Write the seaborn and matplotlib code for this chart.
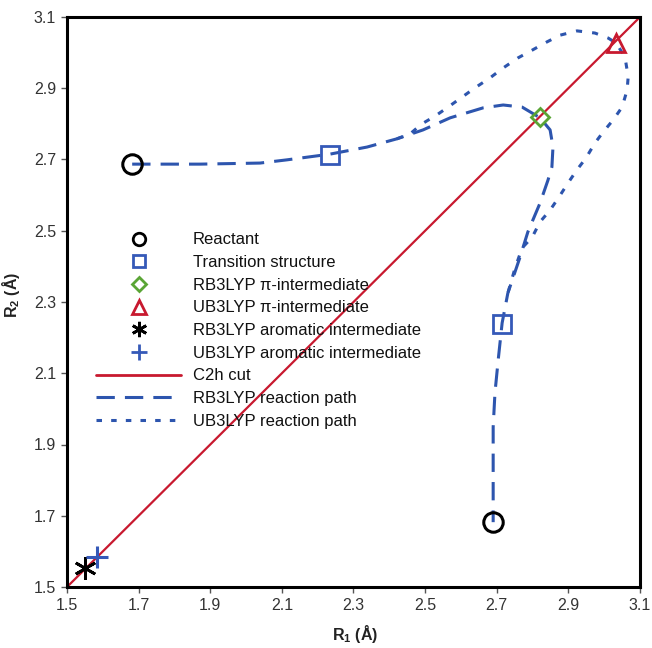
import numpy as np
import pandas as pd
import matplotlib
matplotlib.use("Agg")
import matplotlib.pyplot as plt
from matplotlib.lines import Line2D
import seaborn as sns

# ---------------- data ----------------
rb_r1 = [1.682, 1.760, 1.871, 2.039, 2.114, 2.234, 2.338, 2.421, 2.494, 2.570,
         2.662, 2.718, 2.771, 2.821, 2.849, 2.857, 2.854, 2.843, 2.821, 2.787,
         2.765, 2.731, 2.715, 2.704, 2.695, 2.690, 2.690, 2.690, 2.690]
rb_r2 = [2.687, 2.687, 2.687, 2.690, 2.699, 2.715, 2.735, 2.758, 2.783, 2.817,
         2.845, 2.853, 2.847, 2.817, 2.783, 2.735, 2.679, 2.642, 2.578, 2.497,
         2.426, 2.325, 2.241, 2.137, 2.045, 1.949, 1.856, 1.772, 1.682]

ub_r1 = [2.421, 2.458, 2.491, 2.528, 2.564, 2.603, 2.639, 2.681, 2.718, 2.759,
         2.799, 2.840, 2.877, 2.924, 2.974, 3.011, 3.033, 3.058, 3.067, 3.064,
         3.050, 3.025, 2.997, 2.974, 2.949, 2.924, 2.899, 2.874, 2.849, 2.821,
         2.799, 2.771, 2.751, 2.731]
ub_r2 = [2.758, 2.772, 2.800, 2.822, 2.847, 2.875, 2.901, 2.929, 2.957, 2.985,
         3.007, 3.030, 3.049, 3.061, 3.055, 3.041, 3.027, 2.988, 2.932, 2.895,
         2.847, 2.811, 2.777, 2.746, 2.704, 2.671, 2.634, 2.595, 2.558, 2.525,
         2.482, 2.452, 2.395, 2.325]

cut_r = [1.5, 3.1]

reactant_r1 = [1.682, 2.690]
reactant_r2 = [2.687, 1.682]
ts_r1 = [2.234, 2.715]
ts_r2 = [2.713, 2.238]
rb_pi_r1, rb_pi_r2 = [2.821], [2.818]
ub_pi_r1, ub_pi_r2 = [3.033], [3.028]
rb_arom_r1, rb_arom_r2 = [1.550], [1.553]
ub_arom_r1, ub_arom_r2 = [1.584], [1.584]

ticks = [1.5, 1.7, 1.9, 2.1, 2.3, 2.5, 2.7, 2.9, 3.1]

labels = ["Reactant", "Transition structure", "RB3LYP \u03c0-intermediate",
          "UB3LYP \u03c0-intermediate", "RB3LYP aromatic intermediate",
          "UB3LYP aromatic intermediate", "C2h cut", "RB3LYP reaction path",
          "UB3LYP reaction path"]

# ---------------- style ----------------
sns.set_style("white")
plt.rcParams["font.family"] = ["Liberation Sans", "DejaVu Sans"]
plt.rcParams["mathtext.fontset"] = "custom"
plt.rcParams["mathtext.rm"] = "Liberation Sans"
plt.rcParams["mathtext.bf"] = "Liberation Sans:bold"

RED = "#C8192F"
BLUE = "#2D55AE"
BLUE2 = "#3559B8"
GREEN = "#5AA535"
BLACK = "#000000"
DASH = (0, (6, 3.3))
DOT = (0, (2, 3.3))

fig = plt.figure(figsize=(6.52, 6.48), dpi=100)
ax = fig.add_axes([67 / 652, 1 - 587 / 648, 573 / 652, 570 / 648])

rb = pd.DataFrame({"R1": rb_r1, "R2": rb_r2})
ub = pd.DataFrame({"R1": ub_r1, "R2": ub_r2})
cut = pd.DataFrame({"R1": cut_r, "R2": cut_r})

sns.lineplot(data=cut, x="R1", y="R2", sort=False, estimator=None, ax=ax,
             color=RED, linewidth=1.6, zorder=2)
sns.lineplot(data=rb, x="R1", y="R2", sort=False, estimator=None, ax=ax,
             color=BLUE, linewidth=2.2, linestyle=DASH, zorder=3)
sns.lineplot(data=ub, x="R1", y="R2", sort=False, estimator=None, ax=ax,
             color=BLUE, linewidth=2.2, linestyle=DOT, zorder=3)


def markers(xs, ys, **kw):
    sns.lineplot(x=xs, y=ys, sort=False, estimator=None, ax=ax,
                 linestyle="none", zorder=5, **kw)


markers(reactant_r1, reactant_r2, marker="o", markersize=14, markerfacecolor="none",
        markeredgecolor=BLACK, markeredgewidth=2.2, color=BLACK)
markers(ts_r1, ts_r2, marker="s", markersize=13.5, markerfacecolor="none",
        markeredgecolor=BLUE2, markeredgewidth=2.0, color=BLUE2)
markers(rb_pi_r1, rb_pi_r2, marker="D", markersize=9.5, markerfacecolor="none",
        markeredgecolor=GREEN, markeredgewidth=2.0, color=GREEN)
markers(ub_pi_r1, ub_pi_r2, marker="^", markersize=12.5, markerfacecolor="none",
        markeredgecolor=RED, markeredgewidth=2.0, color=RED)
markers(rb_arom_r1, rb_arom_r2, marker=(6, 2, 0), markersize=16,
        markeredgecolor=BLACK, markeredgewidth=2.0, color=BLACK)
markers(ub_arom_r1, ub_arom_r2, marker="+", markersize=16,
        markeredgecolor=BLUE2, markeredgewidth=2.2, color=BLUE2)

ax.set_xlim(1.5, 3.1)
ax.set_ylim(1.5, 3.1)
ax.set_xticks(ticks)
ax.set_yticks(ticks)
ax.set_xticklabels([f"{t:.1f}" for t in ticks])
ax.set_yticklabels([f"{t:.1f}" for t in ticks])
ax.tick_params(axis="both", direction="out", length=4, width=1.0, pad=4,
               labelsize=11.5, labelcolor="#333333", color="#555555",
               bottom=True, left=True, top=False, right=False)
for s in ax.spines.values():
    s.set_visible(True)
    s.set_color("black")
    s.set_linewidth(2.2)

ax.set_xlabel(r"R$_\mathbf{1}$ (Å)", fontsize=11.5, fontweight="bold", color="#222222")
ax.set_ylabel(r"R$_\mathbf{2}$ (Å)", fontsize=11.5, fontweight="bold", color="#222222")
ax.xaxis.set_label_coords((355 - 67) / 573, (587 - 623) / 570)
ax.yaxis.set_label_coords((22 - 67) / 573, (587 - 295) / 570)

handles = [
    Line2D([], [], linestyle="none", marker="o", markersize=9, markerfacecolor="none",
           markeredgecolor=BLACK, markeredgewidth=2.0),
    Line2D([], [], linestyle="none", marker="s", markersize=9, markerfacecolor="none",
           markeredgecolor=BLUE2, markeredgewidth=2.0),
    Line2D([], [], linestyle="none", marker="D", markersize=7, markerfacecolor="none",
           markeredgecolor=GREEN, markeredgewidth=2.0),
    Line2D([], [], linestyle="none", marker="^", markersize=9.5, markerfacecolor="none",
           markeredgecolor=RED, markeredgewidth=2.0),
    Line2D([], [], linestyle="none", marker=(6, 2, 0), markersize=11,
           markeredgecolor=BLACK, markeredgewidth=2.0, color=BLACK),
    Line2D([], [], linestyle="none", marker="+", markersize=11,
           markeredgecolor=BLUE2, markeredgewidth=2.0, color=BLUE2),
    Line2D([], [], color=RED, linewidth=2.0),
    Line2D([], [], color=BLUE, linewidth=2.2, linestyle=DASH),
    Line2D([], [], color=BLUE, linewidth=2.2, linestyle=(0, (1.8, 3.0))),
]
leg = ax.legend(handles, labels, loc="upper left",
                bbox_to_anchor=(96 / 652, 1 - 232.5 / 648), bbox_transform=fig.transFigure,
                frameon=False, fontsize=12, handlelength=5.1, handletextpad=0.72,
                labelspacing=0.46, borderpad=0, borderaxespad=0)
for t in leg.get_texts():
    t.set_color("#111111")

fig.savefig("out.png", dpi=100)
